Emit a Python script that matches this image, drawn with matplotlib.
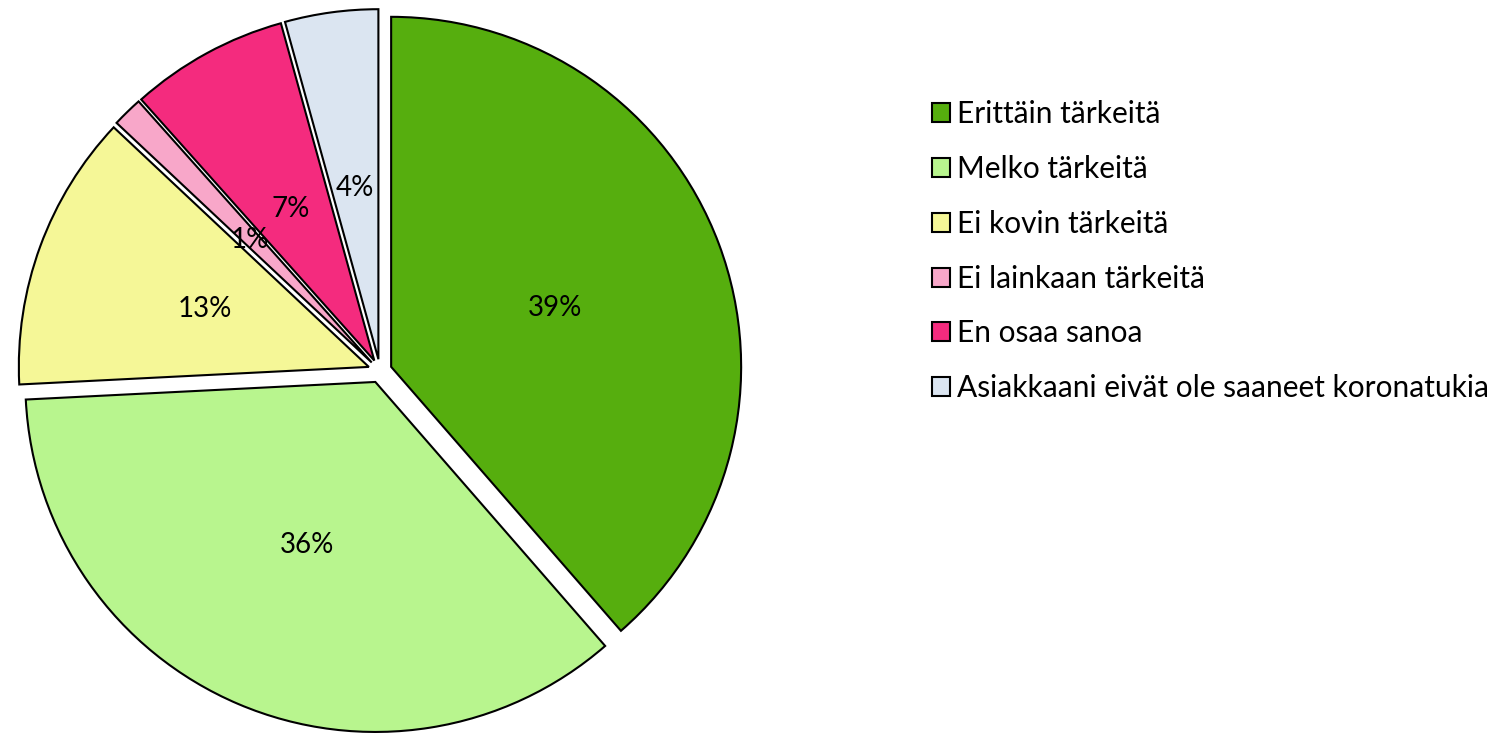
import matplotlib.pyplot as plt

# Vastausten jakauma (%)
luokat = ['Erittäin tärkeitä', 'Melko tärkeitä', 'Ei kovin tärkeitä',
          'Ei lainkaan tärkeitä', 'En osaa sanoa',
          'Asiakkaani eivät ole saaneet koronatukia']
osuudet = [38.6, 35.6, 12.8, 1.4, 7.3, 4.3]
varit = ['#56AE0E', '#B8F58E', '#F5F797', '#F8A7C9', '#F42B7E', '#DBE5F1']

plt.rcParams['font.family'] = ['Lato', 'DejaVu Sans']

W, H, R = 1496, 733, 350
fig = plt.figure(figsize=(W / 100, H / 100), dpi=100)
# piirakan keskipiste pikseleinä (alhaalta mitattuna)
cx, cy, half = 380, 362, 360
ax = fig.add_axes([(cx - half) / W, (cy - half) / H, 2 * half / W, 2 * half / H])

wedges, texts, autotexts = ax.pie(
    osuudet, colors=varit, explode=[0.034] * len(osuudet), startangle=90,
    counterclock=False, autopct='%1.0f%%', pctdistance=0.50,
    wedgeprops=dict(edgecolor='black', linewidth=1.5),
    textprops=dict(fontsize=20, color='black'))
for t in autotexts:
    t.set_verticalalignment('center_baseline')

lim = half / R
ax.set_xlim(-lim, lim)
ax.set_ylim(-lim, lim)
ax.set_aspect('equal')
ax.axis('off')

fig.legend(wedges, luokat, loc='upper left',
           bbox_to_anchor=(920 / W, 1 - 88 / H), frameon=False,
           fontsize=21.5, handlelength=0.6, handleheight=0.6,
           handletextpad=0.25, labelspacing=0.9, borderaxespad=0)

plt.savefig('out.png', dpi=100)
